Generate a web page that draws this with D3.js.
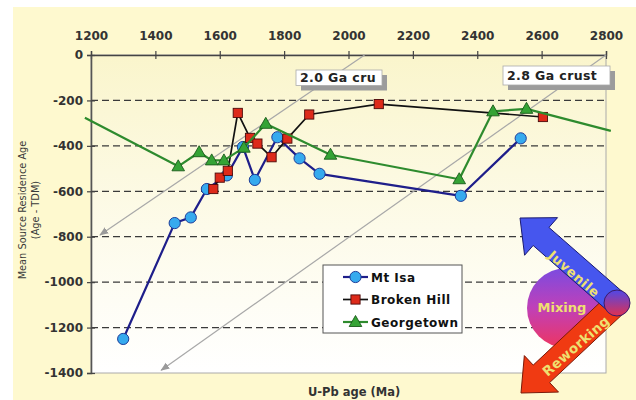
<!DOCTYPE html>
<html><head><meta charset="utf-8">
<script src="https://cdn.jsdelivr.net/npm/d3@7/dist/d3.min.js"></script>
<style>body{margin:0;background:#fff;} svg{display:block;}</style>
</head><body>
<script>
// ---- data ----
const xTicks = [1200,1400,1600,1800,2000,2200,2400,2600,2800];
const yTicks = [0,-200,-400,-600,-800,-1000,-1200,-1400];
const gridValues = [-200,-400,-600,-800,-1000,-1200];

const mtIsaAge = [1300,1460,1510,1560,1622,1672,1709,1779,1848,1910,2349,2535];
const mtIsaRes = [-1250,-740,-715,-590,-530,-405,-550,-362,-455,-523,-620,-367];
const brokenHillAge = [1580,1600,1625,1656,1694,1717,1761,1810,1878,2094,2604];
const brokenHillRes = [-590,-540,-510,-255,-365,-390,-450,-368,-262,-216,-273];
const georgetownAge = [1181,1471,1536,1575,1613,1675,1743,1944,2344,2449,2553,2815];
const georgetownRes = [-276,-490,-428,-464,-464,-408,-303,-439,-547,-248,-237,-334];

const seriesNames = ["Mt Isa","Broken Hill","Georgetown"];
const crustLabels = ["2.0 Ga cru","2.8 Ga crust"];
const crustStartAge = [2050,2800];
const crustStartRes = [0,0];
const crustEndAge = [1228,1418];
const crustEndRes = [-792,-1388];

// ---- layout ----
const W=636,H=400;
const x = d3.scaleLinear().domain([1200,2800]).range([91,606]);
const y = d3.scaleLinear().domain([-1400,0]).range([373,55]);

const svg = d3.select("body").append("svg").attr("width",W).attr("height",H);
const defs = svg.append("defs");
const pg = defs.append("linearGradient").attr("id","plotbg").attr("x1",0).attr("y1",0).attr("x2",0).attr("y2",1);
pg.append("stop").attr("offset","0").attr("stop-color","#FAF5CC");
pg.append("stop").attr("offset","0.55").attr("stop-color","#FDFBEA");
pg.append("stop").attr("offset","1").attr("stop-color","#FFFFFF");

svg.append("rect").attr("x",13).attr("y",7).attr("width",W-13).attr("height",H-7).attr("fill","#FEF9CF");
svg.append("rect").attr("x",x(1200)).attr("y",y(0)).attr("width",x(2800)-x(1200)).attr("height",y(-1400)-y(0))
  .attr("fill","url(#plotbg)").attr("stroke","#aaa").attr("stroke-width",1);

// grid
svg.append("g").selectAll("line").data(gridValues).join("line")
  .attr("x1",x(1200)).attr("x2",x(2800)).attr("y1",d=>y(d)).attr("y2",d=>y(d))
  .attr("stroke","#3a3a3a").attr("stroke-width",1.2).attr("stroke-dasharray","7,4");

// axes
const font = "'DejaVu Sans', Verdana, sans-serif";
const gx = svg.append("g").attr("transform",`translate(0,${y(0)})`)
  .call(d3.axisTop(x).tickValues(xTicks).tickFormat(d3.format("d")).tickSizeOuter(0).tickSize(4));
gx.select(".domain").attr("stroke","#444").attr("stroke-width",1.4);
gx.selectAll(".tick line").attr("y1",4).attr("y2",-4).attr("stroke","#444").attr("stroke-width",1.2);
gx.selectAll(".tick text").attr("y",-15).attr("dy",0).attr("font-family",font).attr("font-weight","bold")
  .attr("font-size",12).attr("fill","#333");

const gy = svg.append("g").attr("transform",`translate(${x(1200)},0)`)
  .call(d3.axisLeft(y).tickValues(yTicks).tickFormat(d3.format("d")).tickSizeOuter(0).tickSize(4));
gy.select(".domain").attr("stroke","#555").attr("stroke-width",1.6);
gy.selectAll(".tick line").attr("x1",4).attr("x2",-4).attr("stroke","#444").attr("stroke-width",1.2);
gy.selectAll(".tick text").attr("x",-8).attr("font-family",font).attr("font-weight","bold")
  .attr("font-size",12).attr("fill","#333").text(d=>d3.format("d")(d).replace("−","-"));

// axis titles
const yt = svg.append("text").attr("transform","translate(26,210) rotate(-90)").attr("text-anchor","middle")
  .attr("font-family",font).attr("font-size",9.8).attr("fill","#3a3a3a");
yt.append("tspan").attr("x",0).attr("dy",0).text("Mean Source Residence Age");
yt.append("tspan").attr("x",0).attr("dy",12.5).text("(Age - TDM)");
svg.append("text").attr("x",308).attr("y",396).attr("font-family",font).attr("font-weight","bold")
  .attr("font-size",11.5).attr("fill","#333").text("U-Pb age (Ma)");

// crust evolution arrows
defs.append("marker").attr("id","ah").attr("viewBox","0 0 10 10").attr("refX",9).attr("refY",5)
  .attr("markerWidth",9).attr("markerHeight",9).attr("markerUnits","userSpaceOnUse").attr("orient","auto")
  .append("path").attr("d","M0,1 L10,5 L0,9 Z").attr("fill","#9a9a9a");
svg.append("g").selectAll("line").data(crustLabels).join("line")
  .attr("x1",(d,i)=>x(crustStartAge[i])).attr("y1",(d,i)=>y(crustStartRes[i]))
  .attr("x2",(d,i)=>x(crustEndAge[i])).attr("y2",(d,i)=>y(crustEndRes[i]))
  .attr("stroke","#a8a8a8").attr("stroke-width",1.2).attr("marker-end","url(#ah)");

// series
const line = d3.line().x(d=>x(d[0])).y(d=>y(d[1]));
const inRange = d => d[0]>=1200 && d[0]<=2800;
const mt = mtIsaAge.map((a,i)=>[a,mtIsaRes[i]]);
const bh = brokenHillAge.map((a,i)=>[a,brokenHillRes[i]]);
const gt = georgetownAge.map((a,i)=>[a,georgetownRes[i]]);

const styles = [
  {line:"#1E1E8A", lw:2.2},
  {line:"#111111", lw:1.7},
  {line:"#2E8B2E", lw:2.2}
];
function marker(g, kind, cx, cy){
  if(kind===0) g.append("circle").attr("cx",cx).attr("cy",cy).attr("r",5.6).attr("fill","#36AAEE").attr("stroke","#1d3d9a").attr("stroke-width",1);
  else if(kind===1) g.append("rect").attr("x",cx-4.6).attr("y",cy-4.6).attr("width",9.2).attr("height",9.2).attr("fill","#DD2A1A").attr("stroke","#4a0a0a").attr("stroke-width",0.9);
  else g.append("path").attr("d",`M${cx},${cy-6.5} L${cx+6.3},${cy+4.5} L${cx-6.3},${cy+4.5} Z`).attr("fill","#35A335").attr("stroke","#1a5a1a").attr("stroke-width",0.9);
}
[mt,bh,gt].forEach((data,k)=>{
  const g = svg.append("g");
  g.append("path").attr("d",line(data)).attr("fill","none").attr("stroke",styles[k].line).attr("stroke-width",styles[k].lw).attr("stroke-linejoin","round");
  data.filter(inRange).forEach(d=>marker(g,k,x(d[0]),y(d[1])));
});

// crust label boxes
const boxes = [{x:296,y:70,w:86,h:15.5,ty:82},{x:503,y:66,w:107,h:19,ty:80}];
crustLabels.forEach((t,i)=>{
  const b=boxes[i];
  svg.append("rect").attr("x",b.x+5).attr("y",b.y+5).attr("width",b.w).attr("height",b.h).attr("fill","#9c9c9c");
  svg.append("rect").attr("x",b.x).attr("y",b.y).attr("width",b.w).attr("height",b.h).attr("fill","#fff").attr("stroke","#aaa").attr("stroke-width",0.8);
  svg.append("text").attr("x",b.x+4).attr("y",b.ty).attr("font-family",font).attr("font-weight","bold")
    .attr("font-size",12.5).attr("fill","#222").attr("letter-spacing",0.4).text(t);
});

// legend
const lg = svg.append("g");
lg.append("rect").attr("x",323).attr("y",265).attr("width",139).attr("height",68).attr("fill","#fff").attr("stroke","#555").attr("stroke-width",1);
seriesNames.forEach((n,k)=>{
  const yy = 277 + k*22.5;
  lg.append("line").attr("x1",343).attr("x2",368).attr("y1",yy).attr("y2",yy).attr("stroke",styles[k].line).attr("stroke-width",styles[k].lw);
  marker(lg,k,355.5,yy);
  lg.append("text").attr("x",371).attr("y",yy+4.5).attr("font-family",font).attr("font-weight","bold")
    .attr("font-size",12).attr("letter-spacing",0.5).attr("fill","#111").text(n);
});

// mixing graphic
const mg = defs.append("linearGradient").attr("id","mixg").attr("x1",0).attr("y1",0).attr("x2",0).attr("y2",1);
mg.append("stop").attr("offset","0").attr("stop-color","#7B4BE0");
mg.append("stop").attr("offset","0.5").attr("stop-color","#C040B8");
mg.append("stop").attr("offset","1").attr("stop-color","#EE3560");
const jg = defs.append("linearGradient").attr("id","jg").attr("x1",0).attr("y1",0).attr("x2",0).attr("y2",1);
jg.append("stop").attr("offset","0").attr("stop-color","#4F48E8");
jg.append("stop").attr("offset","1").attr("stop-color","#E03050");

function arrowPath(sx,sy,tx,ty,sw,hl,hw){
  const dx=tx-sx, dy=ty-sy, L=Math.hypot(dx,dy), ux=dx/L, uy=dy/L, nx=-uy, ny=ux;
  const bx=tx-ux*hl, by=ty-uy*hl;
  const p=[[sx+nx*sw,sy+ny*sw],[bx+nx*sw,by+ny*sw],[bx+nx*hw,by+ny*hw],[tx,ty],[bx-nx*hw,by-ny*hw],[bx-nx*sw,by-ny*sw],[sx-nx*sw,sy-ny*sw]];
  return "M"+p.map(q=>q.join(",")).join("L")+"Z";
}
svg.append("circle").attr("cx",567).attr("cy",308).attr("r",40).attr("fill","url(#mixg)");
svg.append("path").attr("d",arrowPath(617,303,521,393,12,28,25)).attr("fill","#F03A12").attr("stroke","#7a1a08").attr("stroke-width",1);
svg.append("path").attr("d",arrowPath(617,303,520,218,12,28,25)).attr("fill","#4656EE").attr("stroke","#1a1a70").attr("stroke-width",1);
svg.append("text").attr("x",562).attr("y",312).attr("text-anchor","middle").attr("font-family",font).attr("font-weight","bold")
  .attr("font-size",13).attr("fill","#EEE070").text("Mixing");
svg.append("text").attr("transform","translate(574,274) rotate(41)").attr("text-anchor","middle").attr("dy","0.35em")
  .attr("font-family",font).attr("font-weight","bold").attr("font-size",13).attr("letter-spacing",0.6).attr("fill","#EEE070").text("Juvenile");
svg.append("text").attr("transform","translate(576,346) rotate(-41)").attr("text-anchor","middle").attr("dy","0.35em")
  .attr("font-family",font).attr("font-weight","bold").attr("font-size",13.5).attr("letter-spacing",0.3).attr("fill","#EEE070").text("Reworking");
svg.append("circle").attr("cx",617).attr("cy",303).attr("r",13).attr("fill","url(#jg)").attr("stroke","#3a1a6a").attr("stroke-width",1);
</script>
</body></html>
